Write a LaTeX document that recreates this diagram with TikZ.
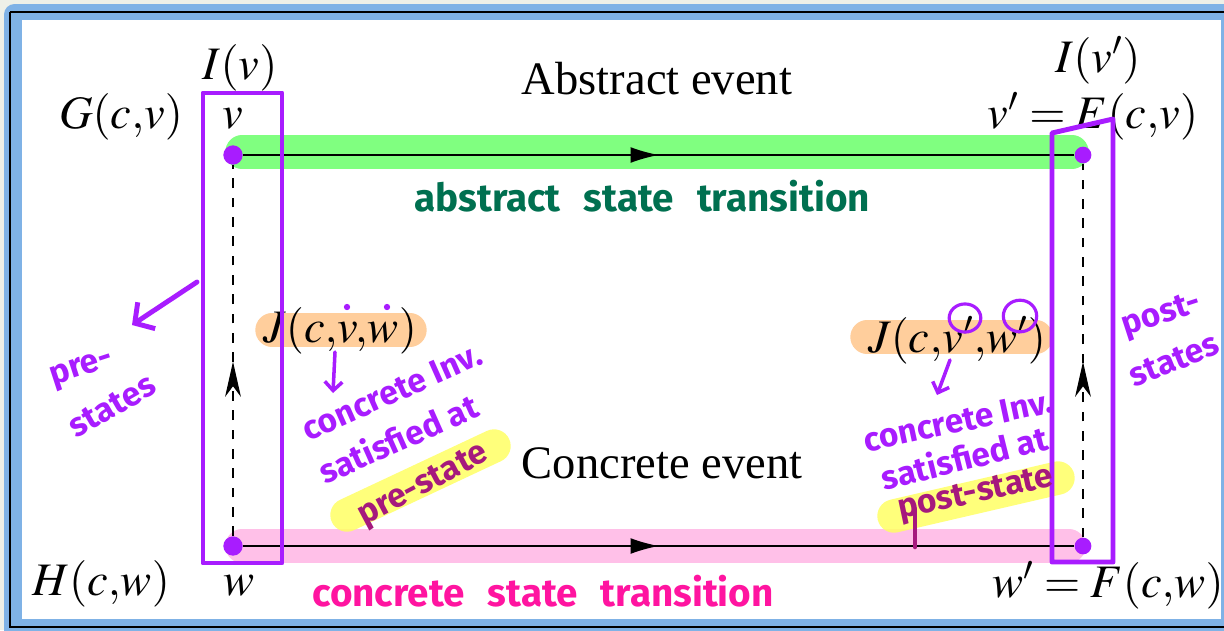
\documentclass[tikz,border=0pt]{standalone}
\usepackage{mathptmx}
\usepackage{fontspec}
\setmainfont{Liberation Serif}
\newfontfamily\hand{Fira Sans}
\usetikzlibrary{arrows.meta,decorations.markings}
\AtBeginDocument{\mathcode`\,="013B}

\definecolor{sheet}{RGB}{238,240,232}
\definecolor{frameblue}{RGB}{127,178,230}
\definecolor{pen}{RGB}{168,28,255}
\definecolor{absgreen}{RGB}{0,112,80}
\definecolor{conpink}{RGB}{255,20,160}
\definecolor{plum}{RGB}{165,25,125}
\definecolor{hlgreen}{RGB}{128,255,128}
\definecolor{hlpink}{RGB}{255,192,232}
\definecolor{hlorange}{RGB}{255,206,156}
\definecolor{hlyellow}{RGB}{255,255,100}

\tikzset{
  dot/.style={circle,fill=pen,inner sep=0pt,minimum size=11pt},
  lbl/.style={anchor=base,inner sep=0pt},
  trans/.style={line width=0.7pt,postaction={decorate},
    decoration={markings,mark=at position .5 with {\arrow{Latex[length=16pt,width=9pt]}}}},
  corr/.style={line width=0.7pt,dash pattern=on 5.5pt off 5.5pt,postaction={decorate},
    decoration={markings,mark=at position .47 with {\arrow{Stealth[length=20pt,width=9pt,inset=6pt]}}}},
  band/.style={line width=19pt,line cap=round},
  penbox/.style={draw=pen,line width=2.8pt,line join=round},
  penline/.style={draw=pen,line width=2.8pt,line cap=round,line join=round},
  hw/.style={inner sep=0pt,font=\hand\bfseries\fontsize{19}{19}\selectfont},
}

\begin{document}
\begin{tikzpicture}[x=0.02cm,y=-0.02cm,font=\fontsize{26.5}{30}\selectfont]
\useasboundingbox (0,0) rectangle (1224,630);
% frame of the screenshot
\fill[sheet] (0,0) rectangle (1224,630);
\fill[frameblue,rounded corners=6pt] (4,4) rectangle (1250,650);
\draw[line width=0.8pt] (10,12) -- (1250,12);
\draw[line width=0.8pt] (10,12) -- (10,627) -- (1250,627);
\fill[white] (22,20) rectangle (1221,619);

% highlights
\draw[band,hlgreen] (242,152) -- (1072,152);
\draw[band,hlpink] (242,546) -- (1069,546);
\draw[band,hlorange] (272,330) -- (410,330);
\draw[band,hlorange] (867,337) -- (1036,337);
\draw[band,hlyellow,opacity=.85] (347,515) -- (494,446);
\draw[band,hlyellow,opacity=.85] (894,516) -- (1058,478);

% states
\node[dot] (v0) at (233,155) {};
\node[dot,minimum size=9.5pt] (v1) at (1083,155) {};
\node[dot] (w0) at (233,546) {};
\node[dot,minimum size=9.5pt] (w1) at (1083,546) {};

\draw[trans] (v0) -- (v1);
\draw[trans] (w0) -- (w1);
\draw[corr] (w0) -- (v0);
\draw[corr] (w1) -- (v1);

% labels
\node[lbl] (iv) at (240,79) {$I(v)$};
\node[lbl] (ivp) at (1098,72) {$I(v')$};
\node[lbl] (gcv) at (121,128) {$G(c,v)$};
\node[lbl] (vl) at (233,128) {$v$};
\node[lbl] (ecv) at (1093,128) {$v'=E(c,v)$};
\node[lbl] (hcw) at (101,595) {$H(c,w)$};
\node[lbl] (wl) at (239,595) {$w$};
\node[lbl] (fcw) at (1108,597) {$w'=F(c,w)$};
\node[lbl] (absev) at (657,94) {Abstract event};
\node[lbl] (conev) at (662,478) {Concrete event};
\node[lbl] (jpre) at (340,342) {$J(c,v,w)$};
\node[lbl] (jpost) at (957,352) {$J(c,v',w')$};

% pen notes
\draw[penbox] (203,93) rectangle (282,563);
\draw[penbox] (1052,133) -- (1113,119) -- (1113,562) -- (1052,562) -- cycle;
\fill[pen] (347,307) circle (1.8pt) (387,307) circle (1.8pt);
\draw[pen,line width=1.8pt] (965,318) ellipse (9pt and 8pt);
\draw[pen,line width=1.8pt] (1020,316) ellipse (9.5pt and 9pt);

\coordinate (pretail) at (197,282);
\coordinate (pretip) at (132,325);
\draw[penline,-{Straight Barb[length=8pt,width=18pt]}] (pretail) -- (pretip);
\node[hw,pen,rotate=18] (pre1) at (82,370) {pre-};
\node[hw,pen,rotate=30] (pre2) at (112,406) {states};
\node[hw,pen,rotate=18] (post1) at (1162,316) {post-};
\node[hw,pen,rotate=22] (post2) at (1174,360) {states};

\coordinate (jpretail) at (335,352);
\coordinate (jpretip) at (333,393);
\draw[penline,line width=2pt,-{Straight Barb[length=5pt,width=10pt]}] (jpretail) -- (jpretip);
\node[hw,pen,rotate=24] (inv1) at (392,392) {concrete Inv.};
\node[hw,pen,rotate=24] (sat1) at (398,438) {satisfied at};
\node[hw,plum,rotate=28] (prest) at (424,486) {pre-state};

\coordinate (jposttail) at (950,360);
\coordinate (jposttip) at (937,395);
\draw[penline,line width=2pt,-{Straight Barb[length=5pt,width=10pt]}] (jposttail) -- (jposttip);
\node[hw,pen,rotate=12] (inv2) at (958,421) {concrete Inv.};
\node[hw,pen,rotate=14] (sat2) at (964,457) {satisfied at};
\node[hw,plum,rotate=12] (postst) at (976,495) {post-state};
\draw[plum,line width=2.6pt,line cap=round] (915,509) -- (915,547);

\node[hw,absgreen,font=\hand\bfseries\fontsize{22}{22}\selectfont] (abstr) at (642,196) {abstract\hspace{0.6em}state\hspace{0.6em}transition};
\node[hw,conpink,font=\hand\bfseries\fontsize{22}{22}\selectfont] (contr) at (543,591) {concrete\hspace{0.6em}state\hspace{0.6em}transition};
\end{tikzpicture}
\end{document}
